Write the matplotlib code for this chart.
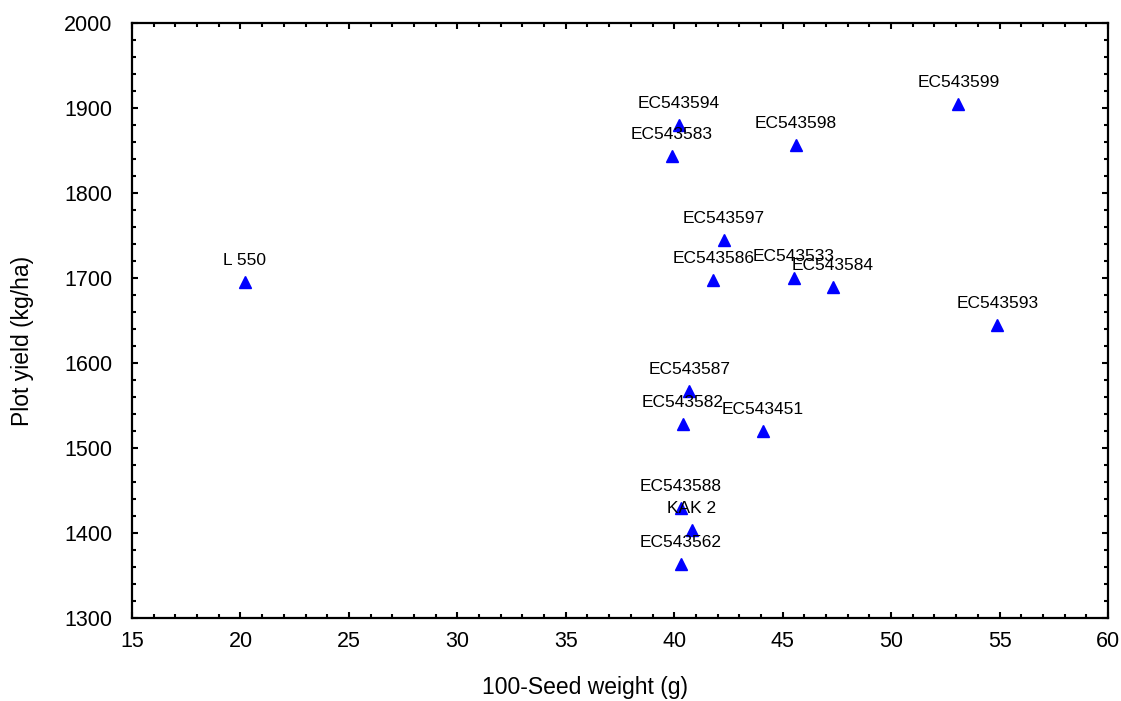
import matplotlib
matplotlib.use('Agg')
import matplotlib.pyplot as plt
from matplotlib.ticker import MultipleLocator

plt.rcParams['font.family'] = ['Liberation Sans', 'DejaVu Sans']

# genotype labels and values
names = ['L 550', 'EC543594', 'EC543583', 'EC543598', 'EC543599',
         'EC543597', 'EC543586', 'EC543533', 'EC543584', 'EC543593',
         'EC543587', 'EC543582', 'EC543451', 'EC543588', 'KAK 2',
         'EC543562']
seed_weight = [20.2, 40.2, 39.9, 45.6, 53.1,
               42.3, 41.8, 45.5, 47.3, 54.9,
               40.7, 40.4, 44.1, 40.3, 40.8,
               40.3]
plot_yield = [1695, 1880, 1844, 1856, 1905,
              1745, 1698, 1700, 1689, 1645,
              1567, 1528, 1520, 1429, 1404,
              1363]

fig = plt.figure(figsize=(11.21, 7.01), dpi=100)
ax = fig.add_axes([0.1178, 0.1184, 0.8706, 0.8488])

ax.plot(seed_weight, plot_yield, linestyle='none', marker='^',
        color='#0000ff', markersize=8, zorder=2)

for n, x, y in zip(names, seed_weight, plot_yield):
    ax.annotate(n, (x, y), xytext=(0, 15.5), textcoords='offset points',
                ha='center', va='center', fontsize=12.5, zorder=3)

ax.set_xlim(15, 60)
ax.set_ylim(1300, 2000)
ax.xaxis.set_major_locator(MultipleLocator(5))
ax.xaxis.set_minor_locator(MultipleLocator(1))
ax.yaxis.set_major_locator(MultipleLocator(100))
ax.yaxis.set_minor_locator(MultipleLocator(20))

ax.tick_params(which='both', direction='in', top=True, right=True,
               width=1.5, labelsize=15.5)
ax.tick_params(axis='x', pad=9)
ax.tick_params(axis='y', pad=14)
ax.tick_params(which='major', length=4)
ax.tick_params(which='minor', length=3)
for s in ax.spines.values():
    s.set_linewidth(1.6)

ax.set_xlabel('100-Seed weight (g)', fontsize=16.5, va='center')
ax.set_ylabel('Plot yield (kg/ha)', fontsize=16.5, va='center')
ax.xaxis.set_label_coords(0.464, -0.1176)
ax.yaxis.set_label_coords(-0.1127, 0.466)

fig.savefig('out.png', dpi=100)
